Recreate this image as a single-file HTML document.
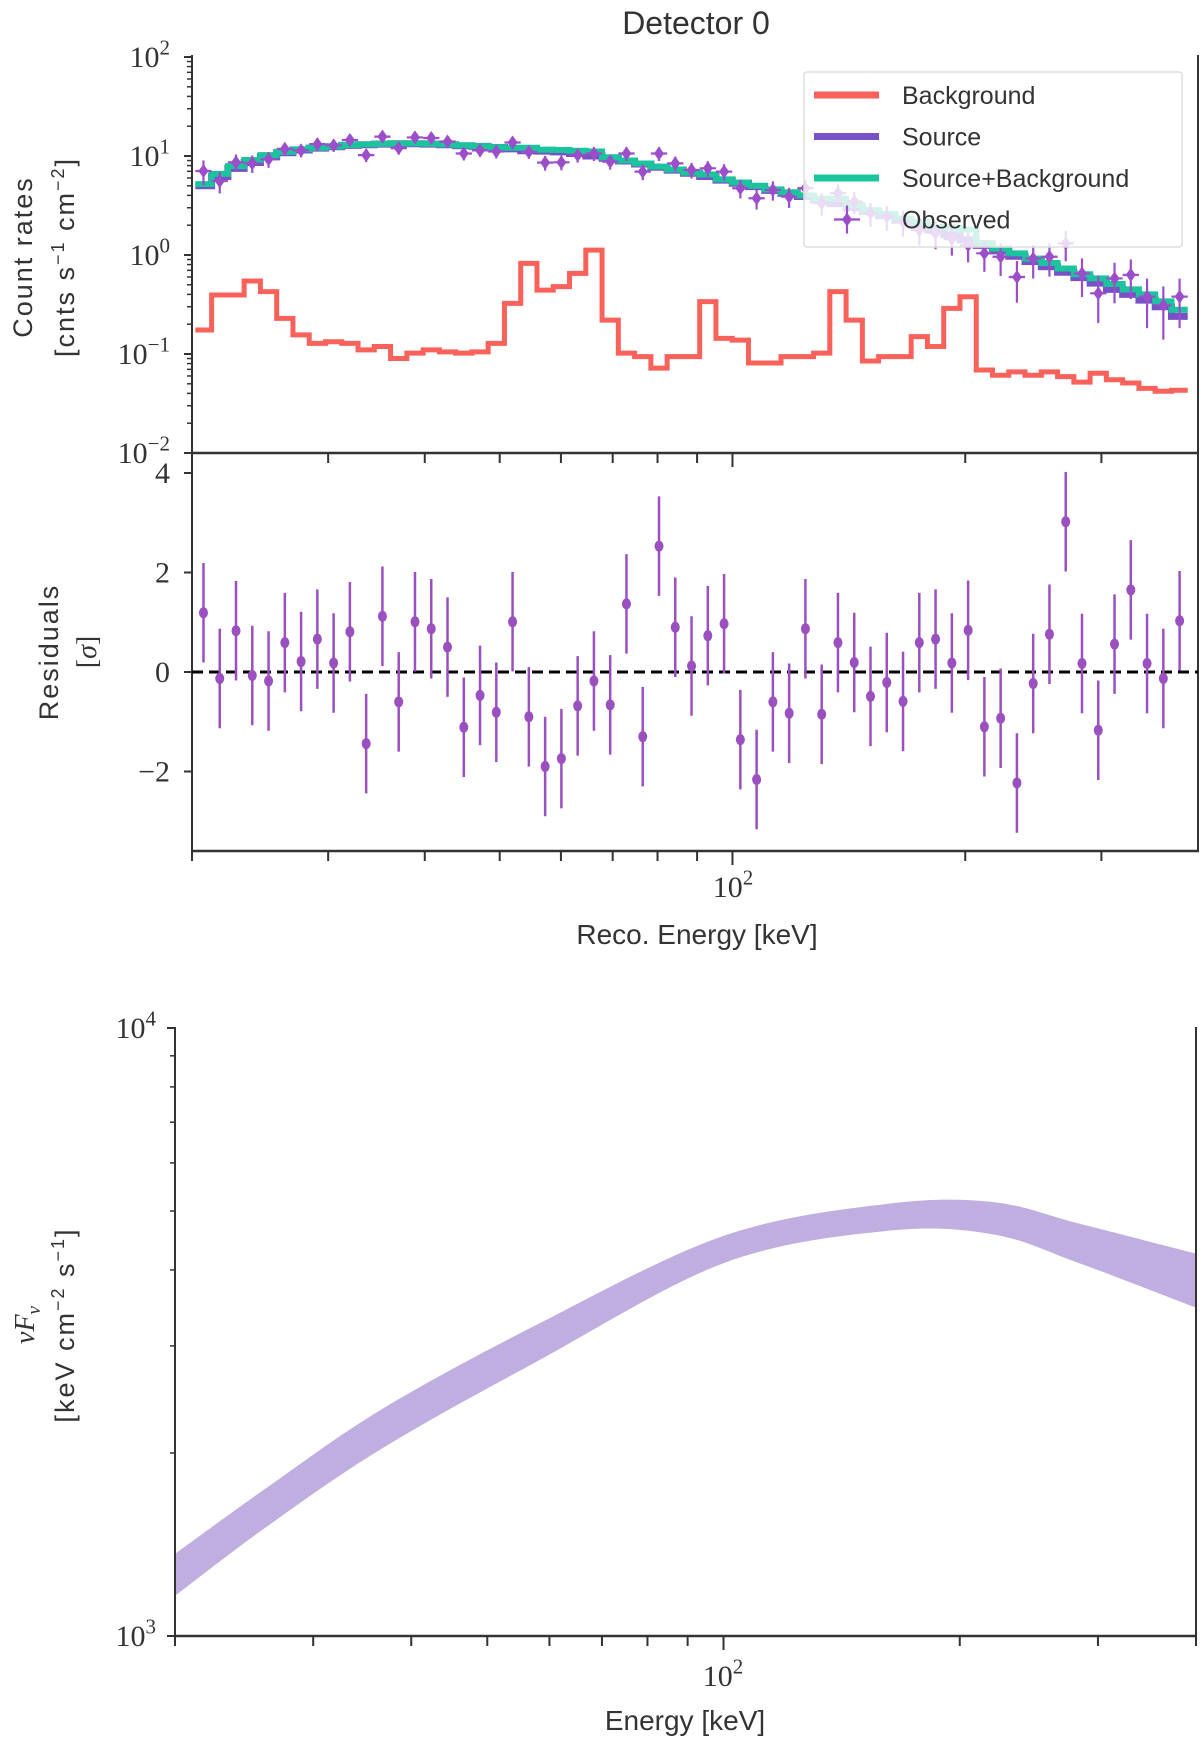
<!DOCTYPE html>
<html><head><meta charset="utf-8"><style>
body{margin:0;background:#fff}
svg text{fill:#333}
.serif{font-family:"Liberation Serif","DejaVu Serif",serif}
.sans{font-family:"Liberation Sans","DejaVu Sans",sans-serif}
</style></head><body>
<svg id="fig" width="1200" height="1750" viewBox="0 0 1200 1750" xmlns="http://www.w3.org/2000/svg">
<rect width="1200" height="1750" fill="#fff"/>
<text class="sans" x="696" y="34" font-size="32" text-anchor="middle">Detector 0</text>
<g id="top"></g><g id="res"></g><g id="bot"></g>
</svg>
<script>
const NS="http://www.w3.org/2000/svg";
// ---- data ----
const binCount=61;
const bgRate=[0.175,0.394,0.394,0.546,0.427,0.229,0.156,0.128,0.133,0.128,0.110,0.119,0.090,0.102,0.110,0.105,0.102,0.105,0.128,0.325,0.824,0.442,0.479,0.653,1.12,0.220,0.102,0.094,0.072,0.094,0.094,0.338,0.144,0.138,0.081,0.081,0.094,0.094,0.102,0.427,0.220,0.085,0.094,0.094,0.150,0.119,0.289,0.379,0.069,0.061,0.066,0.061,0.066,0.059,0.052,0.064,0.055,0.051,0.045,0.042,0.043];
const sourceRate=[5.0,6.2,7.5,8.6,9.8,10.8,11.5,12.0,12.4,12.8,13.0,13.2,13.3,13.3,13.2,13.0,12.7,12.5,12.2,11.8,11.3,11.2,11.0,10.6,10.0,9.5,8.9,8.3,7.7,7.2,6.7,6.2,5.7,5.3,4.9,4.5,4.2,3.9,3.6,3.3,3.0,2.75,2.5,2.25,2.0,1.8,1.6,1.42,1.25,1.1,0.97,0.86,0.76,0.67,0.59,0.52,0.45,0.40,0.35,0.30,0.24];
const totalRate=[5.2,6.6,7.9,9.1,10.2,11.0,11.7,12.1,12.5,12.9,13.1,13.3,13.4,13.4,13.3,13.1,12.8,12.6,12.3,12.1,12.1,11.6,11.5,11.3,11.1,9.7,9.0,8.4,7.8,7.3,6.8,6.5,5.8,5.4,5.0,4.6,4.3,4.0,3.7,3.7,3.2,2.84,2.6,2.34,2.15,1.92,1.89,1.80,1.32,1.16,1.04,0.92,0.83,0.73,0.64,0.58,0.51,0.45,0.40,0.34,0.28];
const observedRate=[7.05,5.58,8.63,8.43,9.27,11.8,11.4,13.2,12.8,14.5,10.2,15.7,12.0,15.4,15.2,14.0,10.6,11.4,11.1,13.7,11.0,8.57,8.63,10.2,10.6,8.77,10.6,6.95,10.6,8.43,7.22,7.51,6.95,4.72,3.74,4.54,3.88,4.72,3.33,4.20,3.46,2.64,2.44,2.17,1.79,1.66,1.45,1.26,1.04,0.96,0.60,0.92,0.96,1.31,0.65,0.41,0.58,0.63,0.38,0.31,0.38];
const observedRelErr=[0.28,0.25,0.2,0.2,0.18,0.15,0.15,0.14,0.14,0.13,0.15,0.13,0.14,0.13,0.13,0.13,0.15,0.14,0.15,0.14,0.15,0.17,0.17,0.16,0.16,0.17,0.16,0.18,0.16,0.17,0.18,0.18,0.19,0.21,0.23,0.22,0.23,0.22,0.25,0.23,0.25,0.27,0.28,0.29,0.3,0.31,0.32,0.33,0.35,0.36,0.45,0.37,0.37,0.34,0.42,0.5,0.44,0.43,0.52,0.55,0.52];
const residuals=[1.19,-0.13,0.83,-0.07,-0.18,0.59,0.21,0.66,0.18,0.81,-1.44,1.12,-0.60,1.01,0.87,0.50,-1.11,-0.47,-0.81,1.01,-0.90,-1.90,-1.74,-0.68,-0.18,-0.66,1.37,-1.30,2.53,0.90,0.12,0.73,0.97,-1.36,-2.16,-0.60,-0.83,0.87,-0.85,0.59,0.19,-0.49,-0.21,-0.59,0.59,0.66,0.18,0.84,-1.10,-0.93,-2.23,-0.23,0.76,3.02,0.17,-1.17,0.56,1.65,0.17,-0.13,1.03];
const bandEnergy=[20,26.2,36.8,57.8,100,161,220,284,400];
const bandUpper=[1365,1755,2366,3250,4550,5135,5175,4766,4256];
const bandLower=[1164,1514,2038,2827,4103,4636,4580,4103,3468];
const yTopTicks=[-2,-1,0,1,2];
const yResTicks=[-2,0,2,4];
const resTickLabels=["\u22122","0","2","4"];
const yBotTicks=[3,4];
// ---- scales ----
const L20=Math.log10(20),L400=Math.log10(400);
const xTop=E=>192+(Math.log10(E)-L20)/(L400-L20)*1006;
const yTop=v=>57+(2-Math.log10(v))*99;
const yRes=r=>672-r*49.75;
const xBot=E=>175+(Math.log10(E)-L20)/(L400-L20)*1021;
const yBot=v=>1028+(4-Math.log10(v))*608;
const binLo=i=>20.2*Math.pow(10,i*0.02104), binHi=i=>20.2*Math.pow(10,(i+1)*0.02104), binC=i=>20.2*Math.pow(10,(i+0.5)*0.02104);
function mk(tag,attrs,parent){const e=document.createElementNS(NS,tag);for(const k in attrs)e.setAttribute(k,attrs[k]);parent.appendChild(e);return e;}
const gT=document.getElementById('top'),gR=document.getElementById('res'),gB=document.getElementById('bot');
const C="#333";
function powLabel(g,x,y,base,exp,size,anchor,name){
  const t=mk('text',{x:x,y:y,'font-size':size,'text-anchor':anchor,class:'serif'},g);
  
  
  t.appendChild(document.createTextNode(base));
  const s=mk('tspan',{dy:-size*0.42,'font-size':size*0.7},t);s.textContent=exp;
}
// ---- top panel ----
function stepPath(vals){let d="";for(let i=0;i<binCount;i++){const y=yTop(vals[i]);d+=(i==0?"M":"L")+xTop(binLo(i))+","+y+"L"+xTop(binHi(i))+","+y;}return d;}
let p=mk('path',{d:stepPath(bgRate),fill:'none',stroke:'#f9625a','stroke-width':5},gT);


p=mk('path',{d:stepPath(sourceRate),fill:'none',stroke:'#7652c6','stroke-width':7},gT);


p=mk('path',{d:stepPath(totalRate),fill:'none',stroke:'#1bc49d','stroke-width':6},gT);


for(let i=0;i<binCount;i++){
  const g=mk('g',{},gT);
  
  
  const x=xTop(binC(i)),v=observedRate[i],e=observedRelErr[i]*v,y=yTop(v);
  mk('line',{x1:x,x2:x,y1:yTop(v+e),y2:yTop(Math.max(v-e,v*0.3)),stroke:'#9b4dca','stroke-width':2.2},g);
  mk('line',{x1:xTop(binLo(i)),x2:xTop(binHi(i)),y1:y,y2:y,stroke:'#9b4dca','stroke-width':2.2},g);
  mk('path',{d:`M${x},${y-7}L${x+5},${y}L${x},${y+7}L${x-5},${y}Z`,fill:'#9b4dca'},g);
}
// legend
const lg=mk('g',{},gT);


mk('rect',{x:804,y:72,width:378,height:175,rx:3,fill:'#fff','fill-opacity':0.8,stroke:'#ddd','stroke-width':1.5},lg);
const legItems=[["Background","#f9625a"],["Source","#7652c6"],["Source+Background","#1bc49d"],["Observed","#9b4dca"]];
legItems.forEach((it,k)=>{
  const y=95+k*41.5;
  const g=mk('g',{},lg);
  
  
  if(k<3) mk('line',{x1:814,x2:879,y1:y,y2:y,stroke:it[1],'stroke-width':7},g);
  else{mk('line',{x1:834,x2:860,y1:y,y2:y,stroke:it[1],'stroke-width':2.2},g);mk('line',{x1:847,x2:847,y1:y-14,y2:y+14,stroke:it[1],'stroke-width':2.2},g);mk('path',{d:`M847,${y-7}L852,${y}L847,${y+7}L842,${y}Z`,fill:it[1]},g);}
  const t=mk('text',{x:902,y:y+9,'font-size':25,class:'sans'},g);t.textContent=it[0];
});
// top axes
mk('line',{x1:192,x2:192,y1:55,y2:454,stroke:C,'stroke-width':2},gT);
mk('line',{x1:1198,x2:1198,y1:55,y2:454,stroke:C,'stroke-width':2},gT);
mk('line',{x1:191,x2:1199,y1:453,y2:453,stroke:C,'stroke-width':2.5},gT);
yTopTicks.forEach(t=>{const y=yTop(Math.pow(10,t));mk('line',{x1:184,x2:192,y1:y,y2:y,stroke:C,'stroke-width':2},gT);
  powLabel(gT,170,y+10,"10",t<0?"\u2212"+(-t):String(t),30,'end','y-tick-label');
  if(t<2)for(let m=2;m<10;m++){const yy=yTop(m*Math.pow(10,t));mk('line',{x1:187,x2:192,y1:yy,y2:yy,stroke:C,'stroke-width':1.5},gT);}});
[20,30,40,50,60,70,80,90,100,200,300].forEach(E=>{const x=xTop(E),big=E==100;
  mk('line',{x1:x,x2:x,y1:453,y2:453+(big?14:10),stroke:C,'stroke-width':2},gT);
  mk('line',{x1:x,x2:x,y1:851,y2:851+(big?14:10),stroke:C,'stroke-width':2},gR);});
let t=mk('text',{transform:'translate(32,257) rotate(-90)','font-size':27,'text-anchor':'middle',class:'sans','letter-spacing':2},gT);


t.textContent="Count rates";
t=mk('text',{transform:'translate(74,257) rotate(-90)','font-size':27,'text-anchor':'middle',class:'sans','letter-spacing':2},gT);


t.innerHTML='[cnts s<tspan dy="-10" font-size="18">\u22121</tspan><tspan dy="10"> cm</tspan><tspan dy="-10" font-size="18">\u22122</tspan><tspan dy="10">]</tspan>';
// ---- residual panel ----
mk('line',{x1:192,x2:192,y1:453,y2:852,stroke:C,'stroke-width':2},gR);
mk('line',{x1:1198,x2:1198,y1:453,y2:852,stroke:C,'stroke-width':2},gR);
mk('line',{x1:191,x2:1199,y1:851,y2:851,stroke:C,'stroke-width':2.5},gR);
let zl=mk('line',{x1:192,x2:1198,y1:yRes(0),y2:yRes(0),stroke:'#000','stroke-width':3,'stroke-dasharray':'11,6'},gR);


yResTicks.forEach((v,k)=>{const y=yRes(v);mk('line',{x1:184,x2:192,y1:y,y2:y,stroke:C,'stroke-width':2},gR);
  const tt=mk('text',{x:170,y:y+10,'font-size':30,'text-anchor':'end',class:'serif'},gR);tt.textContent=resTickLabels[k];});
for(let i=0;i<binCount;i++){
  const g=mk('g',{},gR);
  
  
  const x=xTop(binC(i)),r=residuals[i];
  mk('line',{x1:x,x2:x,y1:yRes(r+1),y2:yRes(r-1),stroke:'#9b50c0','stroke-width':2.5},g);
  mk('ellipse',{cx:x,cy:yRes(r),rx:4.5,ry:5.5,fill:'#9b50c0'},g);
}
t=mk('text',{transform:'translate(58,652) rotate(-90)','font-size':27,'text-anchor':'middle',class:'sans','letter-spacing':2},gR);


t.textContent="Residuals";
t=mk('text',{transform:'translate(96,652) rotate(-90)','font-size':28,'text-anchor':'middle',class:'serif'},gR);


t.innerHTML='[<tspan font-style="italic">σ</tspan>]';
powLabel(gR,733,897,"10","2",30,'middle','x-tick-label');
t=mk('text',{x:697,y:944,'font-size':28,'text-anchor':'middle',class:'sans'},gR);


t.textContent="Reco. Energy [keV]";
// ---- bottom panel ----
function smooth(pts){let d="";for(let i=0;i<pts.length-1;i++){const p0=pts[Math.max(i-1,0)],p1=pts[i],p2=pts[i+1],p3=pts[Math.min(i+2,pts.length-1)];
  const c1=[p1[0]+(p2[0]-p0[0])/6,p1[1]+(p2[1]-p0[1])/6],c2=[p2[0]-(p3[0]-p1[0])/6,p2[1]-(p3[1]-p1[1])/6];
  d+=`C${c1[0]},${c1[1]} ${c2[0]},${c2[1]} ${p2[0]},${p2[1]}`;}return d;}
const up=bandEnergy.map((E,i)=>[xBot(E),yBot(bandUpper[i])]);
const lo=bandEnergy.map((E,i)=>[xBot(E),yBot(bandLower[i])]).reverse();
let band=mk('path',{d:`M${up[0][0]},${up[0][1]}`+smooth(up)+`L${lo[0][0]},${lo[0][1]}`+smooth(lo)+"Z",fill:'#c0aee0'},gB);


mk('line',{x1:175,x2:175,y1:1027,y2:1637,stroke:C,'stroke-width':2},gB);
mk('line',{x1:1196,x2:1196,y1:1027,y2:1637,stroke:C,'stroke-width':2},gB);
mk('line',{x1:174,x2:1197,y1:1636,y2:1636,stroke:C,'stroke-width':2.5},gB);
yBotTicks.forEach(e=>{const y=yBot(Math.pow(10,e));mk('line',{x1:167,x2:175,y1:y,y2:y,stroke:C,'stroke-width':2},gB);
  powLabel(gB,156,y+10,"10",String(e),30,'end','y-tick-label');});
for(let m=2;m<10;m++){const y=yBot(m*1000);mk('line',{x1:170,x2:175,y1:y,y2:y,stroke:C,'stroke-width':1.5},gB);}
[20,30,40,50,60,70,80,90,100,200,300,400].forEach(E=>{const x=xBot(E),big=E==100;mk('line',{x1:x,x2:x,y1:1636,y2:1636+(big?14:10),stroke:C,'stroke-width':2},gB);});
powLabel(gB,723,1686,"10","2",30,'middle','x-tick-label');
t=mk('text',{x:685,y:1730,'font-size':28,'text-anchor':'middle',class:'sans'},gB);


t.textContent="Energy [keV]";
t=mk('text',{transform:'translate(34,1325) rotate(-90)','font-size':28,'text-anchor':'middle',class:'serif','font-style':'italic'},gB);


t.innerHTML='νF<tspan dy="6" font-size="19">ν</tspan>';
t=mk('text',{transform:'translate(74,1325) rotate(-90)','font-size':27,'text-anchor':'middle',class:'sans','letter-spacing':2},gB);


t.innerHTML='[keV cm<tspan dy="-10" font-size="18">\u22122</tspan><tspan dy="10"> s</tspan><tspan dy="-10" font-size="18">\u22121</tspan><tspan dy="10">]</tspan>';
</script>
</body></html>
